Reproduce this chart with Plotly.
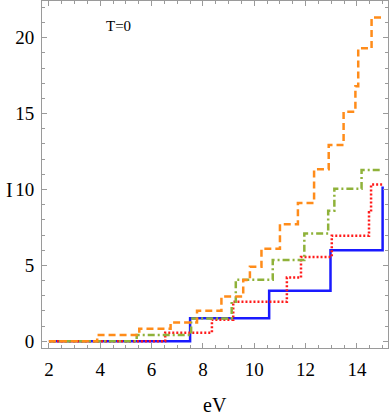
import plotly.graph_objects as go

# Step curves: x breakpoints (eV) and held levels I (line_shape 'hv')
blue_x = [2, 7.5, 10.58, 12.97, 15]
blue_y = [0, 1.52, 3.33, 6.0, 10.2]

red_x = [2, 6.53, 8.35, 9.18, 11.27, 11.82, 13.02, 14.47, 14.55, 15]
red_y = [0, 0.57, 1.42, 2.6, 4.2, 5.56, 6.96, 8.5, 10.33, 10.33]

green_x = [2, 5.42, 7.54, 9.12, 9.28, 10.72, 11.95, 12.88, 13.12, 14.18, 15]
green_y = [0, 0.41, 1.5, 2.6, 4.06, 5.36, 7.1, 8.6, 10.05, 11.28, 11.28]

orange_x = [2, 3.88, 5.52, 6.74, 7.77, 8.72, 9.57, 9.83, 10.28, 11.0, 11.7,
            12.33, 12.9, 13.48, 13.94, 14.05, 14.57, 15]
orange_y = [0, 0.42, 0.82, 1.24, 2.02, 2.95, 4.04, 4.91, 6.1, 7.72, 9.12,
            11.33, 12.94, 15.13, 16.8, 19.3, 21.34, 21.34]

x_ticks = [2, 4, 6, 8, 10, 12, 14]
y_ticks = [0, 5, 10, 15, 20]

fig = go.Figure()
fig.add_trace(go.Scatter(x=blue_x, y=blue_y, mode="lines", line_shape="hv",
                         line=dict(color="#1a1aff", width=2.5)))
fig.add_trace(go.Scatter(x=red_x, y=red_y, mode="lines", line_shape="hv",
                         line=dict(color="#ff1a1a", width=2.5, dash="2px,2px")))
fig.add_trace(go.Scatter(x=green_x, y=green_y, mode="lines", line_shape="hv",
                         line=dict(color="#8fb23a", width=2.5, dash="7px,3px,2px,3px")))
fig.add_trace(go.Scatter(x=orange_x, y=orange_y, mode="lines", line_shape="hv",
                         line=dict(color="#ff8c1a", width=2.5, dash="7px,4px")))

serif = "Liberation Serif, DejaVu Serif, serif"
font = dict(family=serif, size=19, color="black")
frame = "#9a9a9a"

W, H = 390, 420
L, R, T, B = 42, 2, 1, 72
pw, ph = W - L - R, H - T - B


def px_to_paper(px, py):
    return (px - L) / pw, 1 - (py - T) / ph


ex, ey = px_to_paper(215, 405)
tx, ty = px_to_paper(118, 26)
ix, iy = px_to_paper(9, 190)

fig.update_layout(
    width=W, height=H,
    margin=dict(l=L, r=R, t=T, b=B),
    paper_bgcolor="white", plot_bgcolor="white",
    showlegend=False,
    font=font,
    xaxis=dict(range=[1.73, 15.21], tickvals=x_ticks, ticks="inside", ticklen=5,
               tickcolor=frame, showline=True, linecolor=frame, linewidth=1,
               mirror="allticks", showgrid=False, zeroline=False,
               ticklabelstandoff=4,
               minor=dict(dtick=0.5, tick0=0, ticks="inside", ticklen=3, tickcolor=frame)),
    yaxis=dict(range=[-0.44, 22.42], tickvals=y_ticks, ticks="inside", ticklen=5,
               tickcolor=frame, showline=True, linecolor=frame, linewidth=1,
               mirror="allticks", showgrid=False, zeroline=False,
               ticklabelstandoff=3,
               minor=dict(dtick=1, tick0=0, ticks="inside", ticklen=3, tickcolor=frame)),
    annotations=[
        dict(text="eV", x=ex, y=ey, xref="paper", yref="paper", showarrow=False,
             xanchor="center", yanchor="middle", font=dict(family=serif, size=20)),
        dict(text="T=0", x=tx, y=ty, xref="paper", yref="paper", showarrow=False,
             xanchor="center", yanchor="middle", font=dict(family=serif, size=15)),
        dict(text="I", x=ix, y=iy, xref="paper", yref="paper", showarrow=False,
             xanchor="center", yanchor="middle", font=dict(family=serif, size=20)),
    ],
)

fig.write_html("out.html", post_script="document.body.style.margin='0';",
               config={"displayModeBar": False})
